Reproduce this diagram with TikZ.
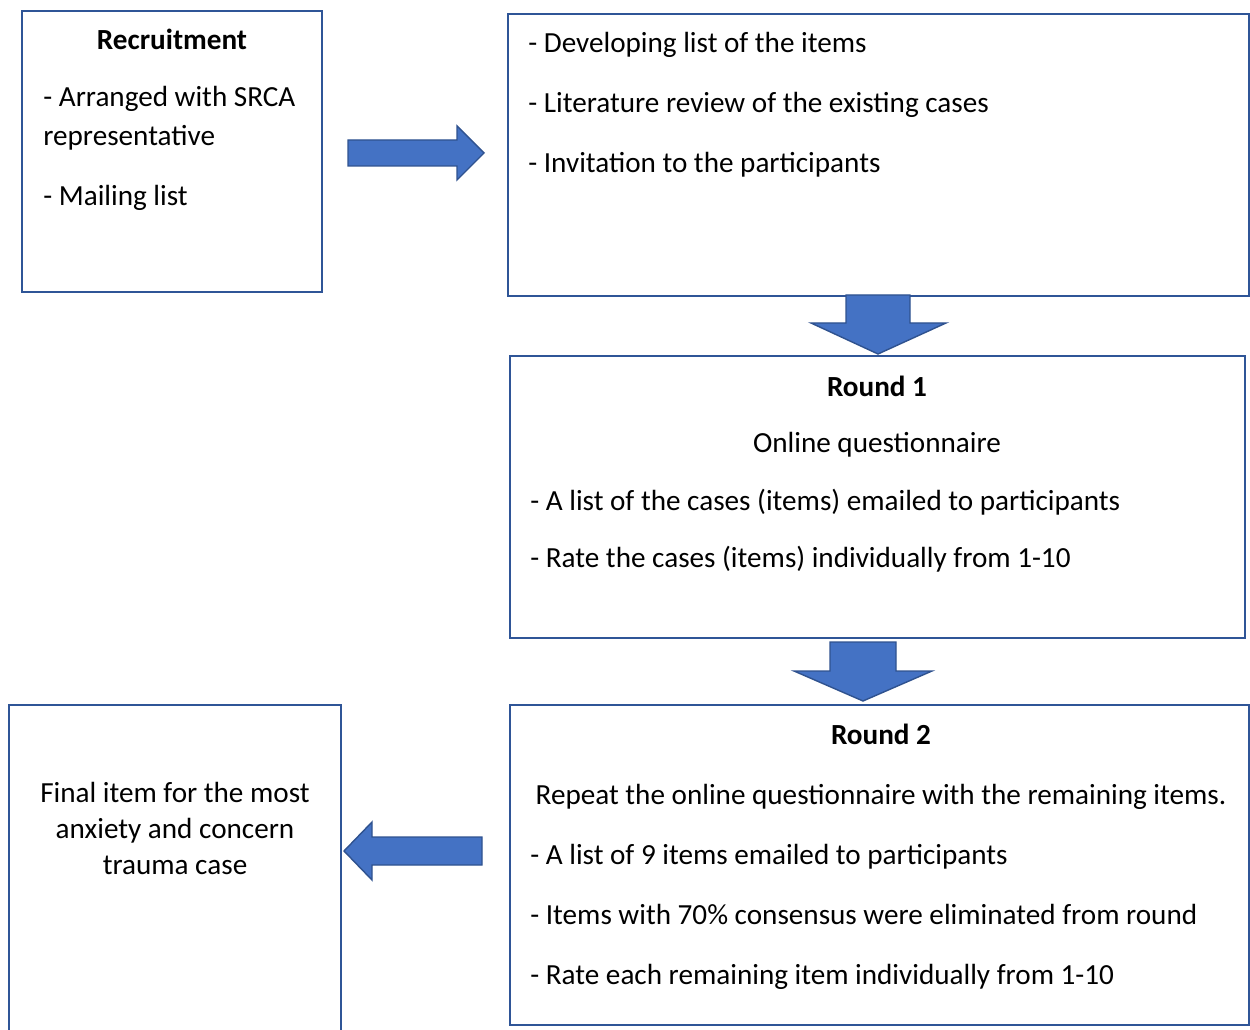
\documentclass[tikz,border=0pt]{standalone}
\usepackage{fontspec}
\setmainfont{Carlito}
\usepackage{tikz}
\usetikzlibrary{positioning}
\usepackage{xcolor}
\definecolor{boxline}{HTML}{2F5597}
\definecolor{arrowfill}{HTML}{4472C4}
\definecolor{arrowline}{HTML}{2F528F}

\begin{document}
\begin{tikzpicture}[
    x=0.02cm, y=-0.02cm,
    box/.style={draw=boxline, line width=1.1pt, anchor=north west, inner sep=0pt},
    txt/.style={anchor=base west, inner sep=0pt, font=\fontsize{16.6}{20}\selectfont},
    head/.style={anchor=base, inner sep=0pt, font=\fontsize{16.6}{20}\selectfont\bfseries},
    mid/.style={anchor=base, inner sep=0pt, font=\fontsize{16.6}{20}\selectfont},
    blockarrow/.style={fill=arrowfill, draw=arrowline, line width=0.8pt, line join=miter}
    ]
    \useasboundingbox (0,0) rectangle (1250,1030);

    % Boxes
    \node[box, minimum width=6cm, minimum height=5.62cm] (recruit) at (21,10) {};
    \node[box, minimum width=14.82cm, minimum height=5.64cm] (prep) at (507,13) {};
    \node[box, minimum width=14.7cm, minimum height=5.64cm] (round1) at (509,355) {};
    \node[box, minimum width=14.78cm, minimum height=6.4cm] (round2) at (509,704) {};
    \node[box, minimum width=6.64cm, minimum height=6.7cm] (final) at (8,704) {};

    % Recruitment
    \node[head] (recruitTitle) at (172,50) {Recruitment};
    \node[txt] (recruitA) at (43,107) {- Arranged with SRCA};
    \node[txt] (recruitB) at (43,146) {representative};
    \node[txt] (recruitC) at (43,206) {- Mailing list};

    % Preparation
    \node[txt] (prepA) at (528,53) {- Developing list of the items};
    \node[txt] (prepB) at (528,113) {- Literature review of the existing cases};
    \node[txt] (prepC) at (528,173) {- Invitation to the participants};

    % Round 1
    \node[head] (roundOneTitle) at (877,396) {Round 1};
    \node[mid] (roundOneSub) at (877,452) {Online questionnaire};
    \node[txt] (roundOneA) at (530,510) {- A list of the cases (items) emailed to participants};
    \node[txt] (roundOneB) at (530,567) {- Rate the cases (items) individually from 1-10};

    % Round 2
    \node[head] (roundTwoTitle) at (881,744) {Round 2};
    \node[mid] (roundTwoSub) at (881,804) {Repeat the online questionnaire with the remaining items.};
    \node[txt] (roundTwoA) at (530,864) {- A list of 9 items emailed to participants};
    \node[txt] (roundTwoB) at (530,924) {- Items with 70\% consensus were eliminated from round};
    \node[txt] (roundTwoC) at (530,984) {- Rate each remaining item individually from 1-10};

    % Final
    \node[mid] (finalA) at (175,802) {Final item for the most};
    \node[mid] (finalB) at (175,838) {anxiety and concern};
    \node[mid] (finalC) at (175,874) {trauma case};

    % Block arrows
    \draw[blockarrow] (348,140) -- (457,140) -- (457,126) -- (484,153)
        -- (457,180) -- (457,166) -- (348,166) -- cycle;
    \draw[blockarrow] (846,295) -- (910,295) -- (910,323) -- (946,323)
        -- (878,354) -- (811,323) -- (846,323) -- cycle;
    \draw[blockarrow] (830,642) -- (896,642) -- (896,671) -- (932,671)
        -- (863,701) -- (794,671) -- (830,671) -- cycle;
    \draw[blockarrow] (482,837) -- (372,837) -- (372,822) -- (344,851)
        -- (372,880) -- (372,865) -- (482,865) -- cycle;
\end{tikzpicture}
\end{document}
